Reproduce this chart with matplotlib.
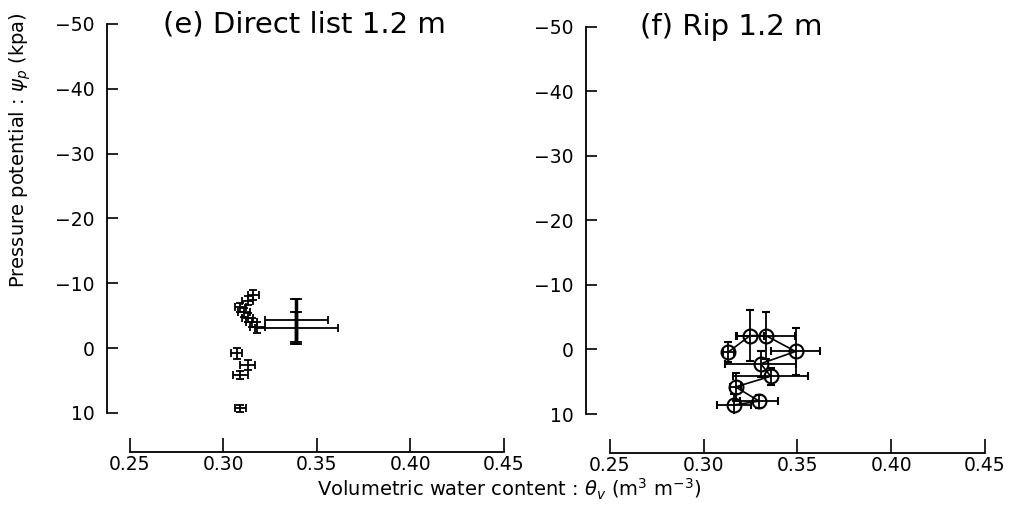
import matplotlib
matplotlib.use("Agg")
import matplotlib.pyplot as plt

# panel (e) Direct list 1.2 m
left_theta = [0.316, 0.313, 0.309, 0.311, 0.313, 0.315, 0.318, 0.339, 0.339, 0.307, 0.313, 0.309, 0.309]
left_psi = [-8.2, -7.3, -6.3, -5.5, -4.7, -4.0, -3.2, -4.3, -3.1, 0.8, 2.6, 4.2, 9.3]
left_theta_err = [0.003, 0.003, 0.003, 0.003, 0.003, 0.003, 0.004, 0.017, 0.022, 0.003, 0.004, 0.004, 0.003]
left_psi_err = [0.7, 0.7, 0.7, 0.7, 0.7, 0.7, 0.8, 3.3, 2.5, 0.8, 0.7, 0.6, 0.5]

# panel (f) Rip 1.2 m
right_theta = [0.316, 0.3295, 0.317, 0.3357, 0.3304, 0.349, 0.3332, 0.3247, 0.3131]
right_psi = [8.6, 8.0, 5.8, 4.15, 2.2, 0.3, -2.15, -2.15, 0.4]
right_theta_err = [0.009, 0.010, 0.003, 0.020, 0.019, 0.013, 0.0155, 0.0075, 0.003]
right_psi_err = [1.7, 1.0, 2.2, 1.3, 2.0, 3.6, 3.6, 4.0, 1.5]

x_ticks = [0.25, 0.30, 0.35, 0.40, 0.45]
x_labels = ["0.25", "0.30", "0.35", "0.40", "0.45"]
y_ticks = [-50, -40, -30, -20, -10, 0, 10]

plt.rcParams["font.family"] = ["DejaVu Sans"]
plt.rcParams["mathtext.fontset"] = "dejavusans"

fig = plt.figure(figsize=(10.1, 5.12), dpi=100)
ax1 = fig.add_axes([0.1059, 0.1934, 0.3931, 0.7598])
ax2 = fig.add_axes([0.5802, 0.1914, 0.3950, 0.7559])


def style(ax, xleft):
    ax.set_xlim(xleft, 0.45)
    ax.set_ylim(10, -50)
    for s in ["top", "right"]:
        ax.spines[s].set_visible(False)
    ax.spines["bottom"].set_position(("outward", 28))
    ax.spines["bottom"].set_bounds(0.25, 0.45)
    ax.spines["left"].set_linewidth(1.3)
    ax.spines["bottom"].set_linewidth(1.3)
    ax.set_xticks(x_ticks)
    ax.set_xticklabels(x_labels)
    ax.set_yticks(y_ticks)
    ax.tick_params(axis="x", direction="in", length=10, width=1.2, labelsize=13.5, pad=2)
    ax.tick_params(axis="y", direction="in", length=8, width=1.2, labelsize=13.5, pad=9)


style(ax1, 0.2377)
style(ax2, 0.2372)

ax1.errorbar(left_theta, left_psi, xerr=left_theta_err, yerr=left_psi_err,
             fmt="none", ecolor="black", elinewidth=1.3, capsize=3, capthick=1.3)
# thicker vertical bar on the big point
ax1.errorbar(left_theta[7:9], left_psi[7:9], yerr=left_psi_err[7:9],
             fmt="none", ecolor="black", elinewidth=2.5, capsize=4, capthick=1.3)

ax2.errorbar(right_theta, right_psi, xerr=right_theta_err, yerr=right_psi_err,
             fmt="-o", color="black", mfc="none", mec="black", ms=10, mew=1.5,
             lw=1.2, elinewidth=1.3, capsize=3, capthick=1.3)

fig.text(163 / 1010, 1 - 33 / 512, "(e) Direct list 1.2 m", fontsize=21, va="baseline")
fig.text(640 / 1010, 1 - 35 / 512, "(f) Rip 1.2 m", fontsize=21, va="baseline")

fig.text(20 / 1010, 1 - 150 / 512, r"Pressure potential : $\psi_p$ (kpa)", fontsize=14,
         rotation=90, ha="center", va="center")
fig.text(509 / 1010, 1 - 496 / 512, r"Volumetric water content : $\theta_v$ (m$^3$ m$^{-3}$)",
         fontsize=14, ha="center", va="baseline")

fig.savefig("out.png", dpi=100)
